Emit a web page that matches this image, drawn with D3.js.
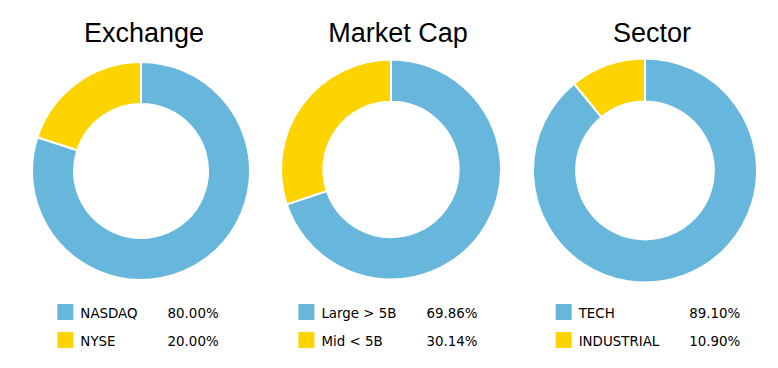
<!DOCTYPE html>
<html>
<head>
<meta charset="utf-8">
<script src="https://cdn.jsdelivr.net/npm/d3@7"></script>
<style>
  body { margin: 0; background: #fff; }
  .title { font-family: "Liberation Sans", Arial, sans-serif; font-size: 27px; fill: #000; }
  .legend text { font-family: "DejaVu Sans", Verdana, sans-serif; font-size: 13.4px; fill: #000; }
</style>
</head>
<body>
<div id="chart"></div>
<script>
var titles = ['Exchange', 'Market Cap', 'Sector'];
var exchangeLabels = ['NASDAQ', 'NYSE'];
var exchangeValues = [80.00, 20.00];
var capLabels = ['Large > 5B', 'Mid < 5B'];
var capValues = [69.86, 30.14];
var sectorLabels = ['TECH', 'INDUSTRIAL'];
var sectorValues = [89.10, 10.90];
var colors = ['#67b7dc', '#fdd400'];

var charts = [
  { title: titles[0], labels: exchangeLabels, values: exchangeValues, cx: 141, cy: 171, r: 109, titleX: 144, legendX: 138 },
  { title: titles[1], labels: capLabels, values: capValues, cx: 391, cy: 169.5, r: 110, titleX: 398, legendX: 388 },
  { title: titles[2], labels: sectorLabels, values: sectorValues, cx: 645, cy: 170.5, r: 112, titleX: 652, legendX: 648 }
];

var svg = d3.select('#chart').append('svg')
  .attr('width', 778)
  .attr('height', 368);

var pie = d3.pie().sort(null).value(function(d) { return d; });
var color = d3.scaleOrdinal().domain([0, 1]).range(colors);
var fmt = d3.format('.2f');

charts.forEach(function(c) {
  var g = svg.append('g');

  g.append('text')
    .attr('class', 'title')
    .attr('x', c.titleX)
    .attr('y', 42)
    .attr('text-anchor', 'middle')
    .text(c.title);

  var arc = d3.arc().innerRadius(c.r * 0.615).outerRadius(c.r);

  g.append('g')
    .attr('transform', 'translate(' + c.cx + ',' + c.cy + ')')
    .selectAll('path').data(pie(c.values))
    .enter().append('path')
    .attr('d', arc)
    .attr('fill', function(d, i) { return color(i); })
    .attr('stroke', '#fff')
    .attr('stroke-width', 2);

  // legend: swatch, label, percentage, centred under the donut
  var lg = g.append('g').attr('class', 'legend');
  var rows = lg.selectAll('g').data(c.labels)
    .enter().append('g')
    .attr('transform', function(d, i) { return 'translate(0,' + (i * 28) + ')'; });

  rows.append('rect')
    .attr('x', 0)
    .attr('y', 304)
    .attr('width', 16)
    .attr('height', 16)
    .attr('fill', function(d, i) { return color(i); });

  var labels = rows.append('text')
    .attr('x', 23)
    .attr('y', 318)
    .text(function(d) { return d; });

  var maxLabel = d3.max(labels.nodes(), function(n) { return n.getComputedTextLength(); });

  var pcts = rows.append('text')
    .attr('x', 23 + maxLabel + 30)
    .attr('y', 318)
    .text(function(d, i) { return fmt(c.values[i]) + '%'; });

  var maxPct = d3.max(pcts.nodes(), function(n) { return n.getComputedTextLength(); });
  var width = 23 + maxLabel + 30 + maxPct;
  lg.attr('transform', 'translate(' + (c.legendX - width / 2) + ',0)');
});
</script>
</body>
</html>
